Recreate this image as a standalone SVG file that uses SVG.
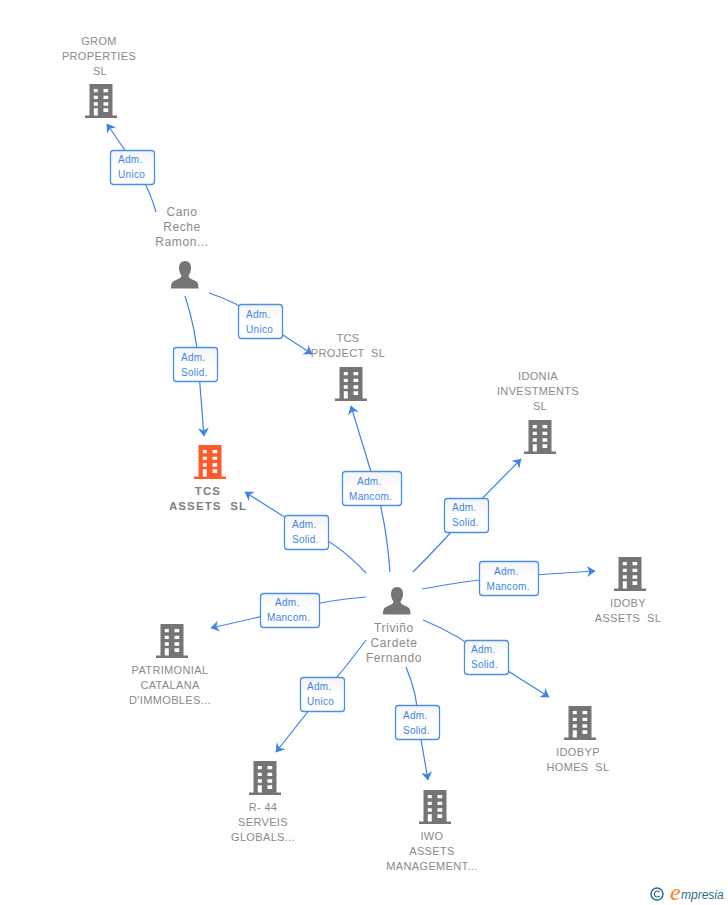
<svg xmlns="http://www.w3.org/2000/svg" width="728" height="905" viewBox="0 0 728 905">
<style>
text{font-family:"Liberation Sans",Arial,sans-serif;white-space:pre}
.n{font-size:11px;letter-spacing:.35px;fill:#8a8a8a;text-anchor:middle}
.p{font-size:12px;letter-spacing:.6px;fill:#8a8a8a;text-anchor:middle}
.m{font-size:11.5px;font-weight:bold;letter-spacing:1.1px;fill:#808080;text-anchor:middle}
.l{font-size:10px;letter-spacing:.3px;fill:#3d84e6}
.c{fill:none;stroke:#3d84e6;stroke-width:1.2}
.b{fill:url(#g);stroke:#4a8ee8;stroke-width:1.3}
</style>
<defs>
<linearGradient id="g" x1="0" y1="0" x2="0" y2="1"><stop offset="0" stop-color="#f4f4f4"/><stop offset=".5" stop-color="#fff"/></linearGradient>
<marker id="a" markerUnits="userSpaceOnUse" markerWidth="12" markerHeight="12" viewBox="0 0 12 12" refX="9" refY="6" orient="auto"><path d="M1 .5L9.500 6L1 11.500L3.500 6Z" fill="#3d84e6"/></marker>
<symbol id="bd" width="32" height="34" viewBox="0 0 32 34" overflow="visible">
<path fill="currentColor" d="M4.500 0H27.500V31.500H32V34H0V31.500H4.500Z"/>
<path fill="#fff" d="M8.800 5H12.800V8.300H8.800ZM18.500 5H23.200V8.300H18.500ZM8.800 11.700H12.800V15H8.800ZM18.500 11.700H23.200V15H18.500ZM8.800 18.300H12.800V21.700H8.800ZM18.500 18.300H23.200V21.700H18.500ZM8.800 24.300H12.800V31.500H8.800ZM18.500 24.300H23.200V28H18.500Z"/>
</symbol>
<symbol id="pr" width="28" height="28" viewBox="0 0 28 28" overflow="visible">
<path fill="#757575" d="M14 0C18 0 20 3 20 7C20 10 19 12.500 17.500 14.500C17.500 17 20 18 23 19.200C26 20.300 27.500 21.500 27.500 27.500H0C0 21.500 1.500 20.300 4.500 19.200C7.500 18 10.500 17 10.500 14.500C9 12.500 8 10 8 7C8 3 10 0 14 0Z"/>
</symbol>
</defs>
<g id="connectors">
<path class="c" d="M156 212Q150 190 135 165L107 124" marker-end="url(#a)"/>
<path class="c" d="M185 296Q196 330 198 360L204 436" marker-end="url(#a)"/>
<path class="c" d="M209 293Q240 303 260 320L312 354" marker-end="url(#a)"/>
<path class="c" d="M390 572Q387 530 378 495L351 406" marker-end="url(#a)"/>
<path class="c" d="M366 573Q335 540 305 530L245 492" marker-end="url(#a)"/>
<path class="c" d="M413 572Q445 540 466 515L521 459" marker-end="url(#a)"/>
<path class="c" d="M422 589Q470 580 508 577T595 571" marker-end="url(#a)"/>
<path class="c" d="M423 620Q460 635 486 657L549 697" marker-end="url(#a)"/>
<path class="c" d="M406 667Q418 695 418 722L428 780" marker-end="url(#a)"/>
<path class="c" d="M366 640Q340 675 322 694L276 752" marker-end="url(#a)"/>
<path class="c" d="M366 597Q325 600 290 610L211 628" marker-end="url(#a)"/>
</g>
<g id="grom"><use href="#bd" x="85" y="84" color="#757575"/><text class="n" x="99" y="45">GROM</text><text class="n" x="99" y="60">PROPERTIES</text><text class="n" x="100" y="75">SL</text></g>
<g id="tcs-project"><use href="#bd" x="335" y="367" color="#757575"/><text class="n" x="348" y="342">TCS</text><text class="n" x="348" y="357">PROJECT  SL</text></g>
<g id="idonia"><use href="#bd" x="524" y="420" color="#757575"/><text class="n" x="538" y="380">IDONIA</text><text class="n" x="538" y="395">INVESTMENTS</text><text class="n" x="540" y="410">SL</text></g>
<g id="tcs-assets"><use href="#bd" x="194" y="445" color="#ff5a2b"/><text class="m" x="208" y="495">TCS</text><text class="m" x="208" y="510">ASSETS  SL</text></g>
<g id="idoby"><use href="#bd" x="614" y="557" color="#757575"/><text class="n" x="628" y="607">IDOBY</text><text class="n" x="628" y="622">ASSETS  SL</text></g>
<g id="patrimonial"><use href="#bd" x="156" y="624" color="#757575"/><text class="n" x="170" y="674">PATRIMONIAL</text><text class="n" x="170" y="689">CATALANA</text><text class="n" x="170" y="704">D'IMMOBLES...</text></g>
<g id="idobyp"><use href="#bd" x="564" y="706" color="#757575"/><text class="n" x="578" y="756">IDOBYP</text><text class="n" x="578" y="771">HOMES  SL</text></g>
<g id="r44"><use href="#bd" x="249" y="761" color="#757575"/><text class="n" x="263" y="811">R- 44</text><text class="n" x="263" y="826">SERVEIS</text><text class="n" x="263" y="841">GLOBALS...</text></g>
<g id="iwo"><use href="#bd" x="419" y="790" color="#757575"/><text class="n" x="432" y="840">IWO</text><text class="n" x="432" y="855">ASSETS</text><text class="n" x="432" y="870">MANAGEMENT...</text></g>
<g id="cano"><use href="#pr" x="171" y="261"/><text class="p" x="182" y="216">Cano</text><text class="p" x="182" y="231">Reche</text><text class="p" x="182" y="246">Ramon...</text></g>
<g id="trivino"><use href="#pr" x="383" y="587"/><text class="p" x="394" y="632">Triviño</text><text class="p" x="394" y="647">Cardete</text><text class="p" x="394" y="662">Fernando</text></g>
<g id="labels">
<g id="e1"><rect class="b" x="110.500" y="150.500" width="44" height="34" rx="3"/><text class="l" x="118" y="163">Adm.</text><text class="l" x="118" y="178">Unico</text></g>
<g id="e2"><rect class="b" x="238.500" y="304.500" width="44" height="34" rx="3"/><text class="l" x="246" y="318">Adm.</text><text class="l" x="246" y="333">Unico</text></g>
<g id="e3"><rect class="b" x="173.500" y="347.500" width="44" height="34" rx="3"/><text class="l" x="181" y="361">Adm.</text><text class="l" x="181" y="376">Solid.</text></g>
<g id="e4"><rect class="b" x="342.500" y="471.500" width="59" height="34" rx="3"/><text class="l" x="357" y="485">Adm.</text><text class="l" x="349" y="500">Mancom.</text></g>
<g id="e5"><rect class="b" x="284.500" y="515.500" width="44" height="34" rx="3"/><text class="l" x="292" y="528">Adm.</text><text class="l" x="292" y="543">Solid.</text></g>
<g id="e6"><rect class="b" x="444.500" y="498.500" width="44" height="34" rx="3"/><text class="l" x="452" y="511">Adm.</text><text class="l" x="452" y="526">Solid.</text></g>
<g id="e7"><rect class="b" x="479.500" y="561.500" width="59" height="34" rx="3"/><text class="l" x="494" y="575">Adm.</text><text class="l" x="486.500" y="590">Mancom.</text></g>
<g id="e8"><rect class="b" x="464.500" y="640.500" width="44" height="34" rx="3"/><text class="l" x="471" y="653">Adm.</text><text class="l" x="471" y="668">Solid.</text></g>
<g id="e9"><rect class="b" x="395.500" y="705.500" width="44" height="34" rx="3"/><text class="l" x="403" y="719">Adm.</text><text class="l" x="403" y="734">Solid.</text></g>
<g id="e10"><rect class="b" x="300.500" y="677.500" width="44" height="34" rx="3"/><text class="l" x="307" y="690">Adm.</text><text class="l" x="307" y="705">Unico</text></g>
<g id="e11"><rect class="b" x="260.500" y="593.500" width="59" height="34" rx="3"/><text class="l" x="275" y="606">Adm.</text><text class="l" x="267" y="621">Mancom.</text></g>
</g>
<g id="logo">
<circle cx="657" cy="894" r="6" fill="none" stroke="#2a6f88" stroke-width="1.500"/><path d="M659.500 892A3 3 0 1 0 659.500 896" fill="none" stroke="#2a6f88" stroke-width="1.200"/>
<text x="670" y="900" style="font-family:'Liberation Serif',serif;font-style:italic;font-size:24px" fill="#f58220">e</text>
<text x="681" y="899" style="font-family:'Liberation Sans',sans-serif;font-style:italic;font-size:12px" fill="#2a6f88">mpresia</text>
</g>
</svg>
